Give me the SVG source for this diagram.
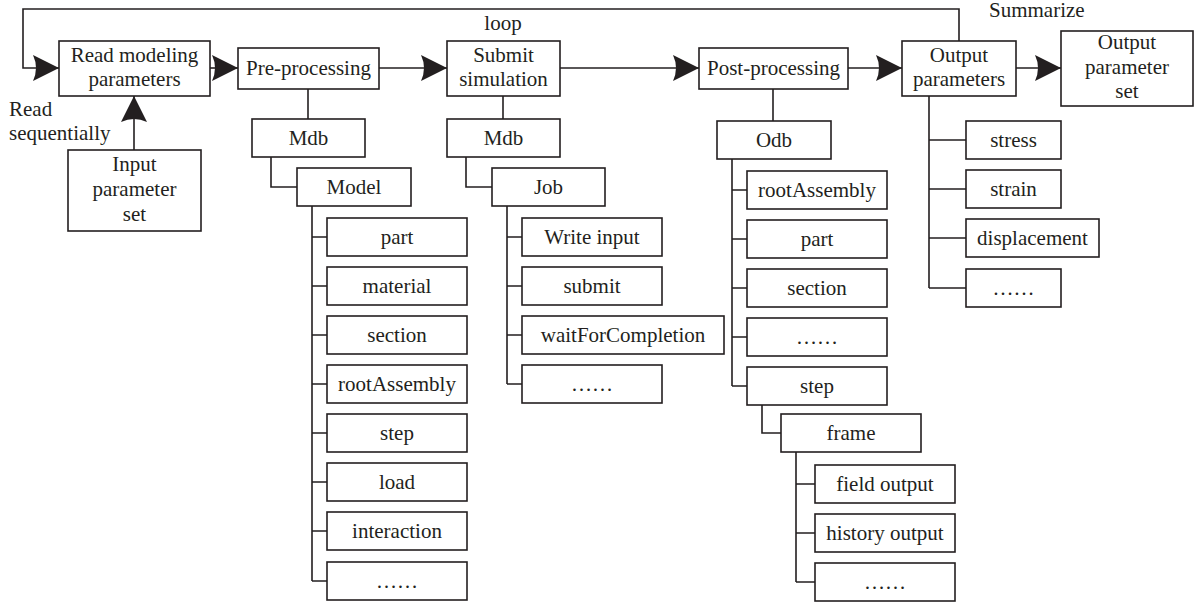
<svg xmlns="http://www.w3.org/2000/svg" width="1196" height="606" viewBox="0 0 1196 606">
  <style>
    .box { fill: #ffffff; stroke: #231f20; stroke-width: 1.6; }
    .ln { fill: none; stroke: #231f20; stroke-width: 1.6; }
    .t { font-family: "Liberation Serif", "Times New Roman", serif; font-size: 21px; fill: #231f20; text-anchor: middle; }
    .tl { font-family: "Liberation Serif", "Times New Roman", serif; font-size: 21px; fill: #231f20; text-anchor: start; }
  </style>
  <defs>
    <marker id="arrow" viewBox="0 0 26 26" refX="26" refY="13" markerWidth="26" markerHeight="26" markerUnits="userSpaceOnUse" orient="auto">
      <path d="M0,0 L26,13 L0,26 Q6,13 0,0 Z" fill="#231f20"/>
    </marker>
  </defs>
  <rect width="1196" height="606" fill="#ffffff"/>

  <!-- connectors -->
  <g id="connectors">
    <polyline class="ln" points="959,41 959,9 23,9 23,68 59,68" marker-end="url(#arrow)"/>
    <line class="ln" x1="210" y1="68" x2="238" y2="68" marker-end="url(#arrow)"/>
    <line class="ln" x1="134" y1="150" x2="134" y2="96" marker-end="url(#arrow)"/>
    <line class="ln" x1="379" y1="68" x2="447" y2="68" marker-end="url(#arrow)"/>
    <line class="ln" x1="560" y1="68" x2="699" y2="68" marker-end="url(#arrow)"/>
    <line class="ln" x1="848" y1="68" x2="902" y2="68" marker-end="url(#arrow)"/>
    <line class="ln" x1="1016" y1="68" x2="1061" y2="68" marker-end="url(#arrow)"/>

    <!-- pre-processing tree -->
    <line class="ln" x1="308" y1="89" x2="308" y2="119"/>
    <polyline class="ln" points="271,157 271,187 297,187"/>
    <path class="ln" d="M312,206 V581 M312,237 H327 M312,286 H327 M312,335 H327 M312,384 H327 M312,433 H327 M312,482 H327 M312,531 H327 M312,581 H327"/>

    <!-- submit tree -->
    <line class="ln" x1="503" y1="96" x2="503" y2="119"/>
    <polyline class="ln" points="466,157 466,187 492,187"/>
    <path class="ln" d="M507,206 V384 M507,237 H522 M507,286 H522 M507,335 H522 M507,384 H522"/>

    <!-- post-processing tree -->
    <line class="ln" x1="773" y1="89" x2="773" y2="121"/>
    <path class="ln" d="M732,159 V386 M732,190 H747 M732,239 H747 M732,288 H747 M732,337 H747 M732,386 H747"/>
    <polyline class="ln" points="762,404 762,433 781,433"/>
    <path class="ln" d="M796,452 V582 M796,484 H815 M796,533 H815 M796,582 H815"/>

    <!-- output tree -->
    <path class="ln" d="M929,96 V288 M929,140 H966 M929,189 H966 M929,238 H966 M929,288 H966"/>
  </g>

  <!-- free labels -->
  <text class="tl" x="9" y="116">Read</text>
  <text class="tl" x="9" y="140">sequentially</text>
  <text class="t" x="503" y="30">loop</text>
  <text class="tl" x="989" y="17">Summarize</text>

  <!-- main flow -->
  <g id="read-modeling">
    <rect class="box" x="59" y="41" width="151" height="55"/>
    <text class="t" x="134.5" y="62">Read modeling</text>
    <text class="t" x="134.5" y="86">parameters</text>
  </g>
  <g id="input-set">
    <rect class="box" x="68" y="150" width="133" height="81"/>
    <text class="t" x="134.5" y="171">Input</text>
    <text class="t" x="134.5" y="196">parameter</text>
    <text class="t" x="134.5" y="221">set</text>
  </g>
  <g id="pre-processing">
    <rect class="box" x="238" y="48" width="141" height="41"/>
    <text class="t" x="308.5" y="75">Pre-processing</text>
  </g>
  <g id="submit-simulation">
    <rect class="box" x="447" y="41" width="113" height="55"/>
    <text class="t" x="503.5" y="62">Submit</text>
    <text class="t" x="503.5" y="86">simulation</text>
  </g>
  <g id="post-processing">
    <rect class="box" x="699" y="48" width="149" height="41"/>
    <text class="t" x="773.5" y="75">Post-processing</text>
  </g>
  <g id="output-parameters">
    <rect class="box" x="902" y="41" width="114" height="55"/>
    <text class="t" x="959" y="62">Output</text>
    <text class="t" x="959" y="86">parameters</text>
  </g>
  <g id="output-set">
    <rect class="box" x="1061" y="31" width="132" height="75"/>
    <text class="t" x="1127" y="49">Output</text>
    <text class="t" x="1127" y="74">parameter</text>
    <text class="t" x="1127" y="98">set</text>
  </g>

  <!-- pre-processing objects -->
  <g id="mdb-pre">
    <rect class="box" x="252" y="119" width="113" height="38"/>
    <text class="t" x="308.5" y="145">Mdb</text>
  </g>
  <g id="model">
    <rect class="box" x="297" y="168" width="114" height="38"/>
    <text class="t" x="354" y="194">Model</text>
  </g>
  <g id="model-part"><rect class="box" x="327" y="218" width="140" height="38"/><text class="t" x="397" y="244">part</text></g>
  <g id="model-material"><rect class="box" x="327" y="267" width="140" height="38"/><text class="t" x="397" y="293">material</text></g>
  <g id="model-section"><rect class="box" x="327" y="316" width="140" height="38"/><text class="t" x="397" y="342">section</text></g>
  <g id="model-rootassembly"><rect class="box" x="327" y="365" width="140" height="38"/><text class="t" x="397" y="391">rootAssembly</text></g>
  <g id="model-step"><rect class="box" x="327" y="414" width="140" height="38"/><text class="t" x="397" y="440">step</text></g>
  <g id="model-load"><rect class="box" x="327" y="463" width="140" height="38"/><text class="t" x="397" y="489">load</text></g>
  <g id="model-interaction"><rect class="box" x="327" y="512" width="140" height="38"/><text class="t" x="397" y="538">interaction</text></g>
  <g id="model-more"><rect class="box" x="327" y="562" width="140" height="38"/><text class="t" x="397" y="588">……</text></g>

  <!-- submit objects -->
  <g id="mdb-submit">
    <rect class="box" x="447" y="119" width="113" height="38"/>
    <text class="t" x="503.5" y="145">Mdb</text>
  </g>
  <g id="job">
    <rect class="box" x="492" y="168" width="113" height="38"/>
    <text class="t" x="548.5" y="194">Job</text>
  </g>
  <g id="job-write"><rect class="box" x="522" y="218" width="140" height="38"/><text class="t" x="592" y="244">Write input</text></g>
  <g id="job-submit"><rect class="box" x="522" y="267" width="140" height="38"/><text class="t" x="592" y="293">submit</text></g>
  <g id="job-wait"><rect class="box" x="522" y="316" width="202" height="38"/><text class="t" x="623" y="342">waitForCompletion</text></g>
  <g id="job-more"><rect class="box" x="522" y="365" width="140" height="38"/><text class="t" x="592" y="391">……</text></g>

  <!-- post-processing objects -->
  <g id="odb">
    <rect class="box" x="717" y="121" width="114" height="38"/>
    <text class="t" x="774" y="147">Odb</text>
  </g>
  <g id="odb-rootassembly"><rect class="box" x="747" y="171" width="140" height="38"/><text class="t" x="817" y="197">rootAssembly</text></g>
  <g id="odb-part"><rect class="box" x="747" y="220" width="140" height="38"/><text class="t" x="817" y="246">part</text></g>
  <g id="odb-section"><rect class="box" x="747" y="269" width="140" height="38"/><text class="t" x="817" y="295">section</text></g>
  <g id="odb-more"><rect class="box" x="747" y="318" width="140" height="38"/><text class="t" x="817" y="344">……</text></g>
  <g id="odb-step"><rect class="box" x="747" y="367" width="140" height="38"/><text class="t" x="817" y="393">step</text></g>
  <g id="frame">
    <rect class="box" x="781" y="414" width="140" height="38"/>
    <text class="t" x="851" y="440">frame</text>
  </g>
  <g id="frame-field"><rect class="box" x="815" y="465" width="140" height="38"/><text class="t" x="885" y="491">field output</text></g>
  <g id="frame-history"><rect class="box" x="815" y="514" width="140" height="38"/><text class="t" x="885" y="540">history output</text></g>
  <g id="frame-more"><rect class="box" x="815" y="563" width="140" height="38"/><text class="t" x="885" y="589">……</text></g>

  <!-- output quantities -->
  <g id="out-stress"><rect class="box" x="966" y="121" width="95" height="38"/><text class="t" x="1013.5" y="147">stress</text></g>
  <g id="out-strain"><rect class="box" x="966" y="170" width="95" height="38"/><text class="t" x="1013.5" y="196">strain</text></g>
  <g id="out-displacement"><rect class="box" x="966" y="219" width="133" height="38"/><text class="t" x="1032.5" y="245">displacement</text></g>
  <g id="out-more"><rect class="box" x="966" y="269" width="95" height="38"/><text class="t" x="1013.5" y="295">……</text></g>
</svg>
